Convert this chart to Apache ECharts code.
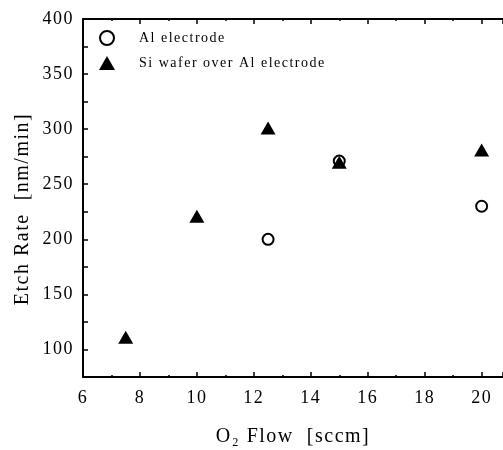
<!DOCTYPE html>
<html>
<head>
<meta charset="utf-8">
<script src="https://cdn.jsdelivr.net/npm/echarts@6/dist/echarts.min.js"></script>
<style>
  html, body { margin: 0; padding: 0; background: #fff; }
  #main { width: 503px; height: 450px; }
</style>
</head>
<body>
<div id="main"></div>
<script>
// O2 flow vs etch rate
const seriesNames = ['Al electrode', 'Si wafer over Al electrode'];
const alFlow = [12.5, 15, 20];
const alRate = [200, 271, 230];
const siFlow = [7.5, 10, 12.5, 15, 20];
const siRate = [111, 221, 301, 270, 281];

const font = 'Liberation Serif, Times New Roman, serif';

// the original typesetting is a little spread out
const fillText = CanvasRenderingContext2D.prototype.fillText;
CanvasRenderingContext2D.prototype.fillText = function (...args) {
    this.letterSpacing = '1.5px';
    return fillText.apply(this, args);
};

function pairs(xs, ys) {
    return xs.map((x, i) => [x, ys[i]]);
}

const chart = echarts.init(document.getElementById('main'), null, { renderer: 'canvas' });

const option = {
    animation: false,
    backgroundColor: '#fff',
    grid: { left: 83, right: 0, top: 19, bottom: 73, outerBoundsMode: 'none', containLabel: false },
    legend: {
        orient: 'vertical',
        left: 94,
        top: 25,
        itemWidth: 16,
        itemHeight: 14,
        itemGap: 10,
        textStyle: { fontFamily: font, fontSize: 14, color: '#000', padding: [0, 0, 0, 19] },
        data: seriesNames
    },
    xAxis: [{
        type: 'value',
        min: 6,
        max: 20.75,
        interval: 2,
        position: 'bottom',
        name: 'O\u2082 Flow  [sccm]',
        nameLocation: 'middle',
        nameGap: 50,
        nameTextStyle: { fontFamily: font, fontSize: 20, color: '#000' },
        axisLine: { lineStyle: { color: '#000', width: 2 } },
        axisTick: { inside: true, length: 5, lineStyle: { color: '#000', width: 1.5 } },
        minorTick: { show: true, splitNumber: 2, length: 2, lineStyle: { color: '#000', width: 1.5 } },
        axisLabel: {
            margin: 12,
            fontFamily: font, fontSize: 18, color: '#000',
            showMaxLabel: false,
            formatter: v => (v % 2 === 0 ? String(v) : '')
        },
        splitLine: { show: false }
    }, {
        type: 'value',
        min: 6,
        max: 20.75,
        interval: 2,
        position: 'top',
        axisLine: { lineStyle: { color: '#000', width: 2 } },
        axisTick: { inside: true, length: 5, lineStyle: { color: '#000', width: 1.5 } },
        minorTick: { show: true, splitNumber: 2, length: 2, lineStyle: { color: '#000', width: 1.5 } },
        axisLabel: { show: false },
        splitLine: { show: false }
    }],
    yAxis: {
        type: 'value',
        min: 75,
        max: 400,
        interval: 25,
        name: 'Etch Rate  [nm/min]',
        nameLocation: 'middle',
        nameGap: 50,
        nameTextStyle: { fontFamily: font, fontSize: 20, color: '#000', padding: [0, 22, 0, 0] },
        axisLine: { lineStyle: { color: '#000', width: 2 } },
        axisTick: { inside: true, length: 5, lineStyle: { color: '#000', width: 1.5 } },
        axisLabel: {
            margin: 9,
            fontFamily: font, fontSize: 18, color: '#000',
            formatter: v => (v >= 100 && v % 50 === 0 ? String(v) : '')
        },
        splitLine: { show: false }
    },
    series: [{
        name: seriesNames[0],
        type: 'scatter',
        symbol: 'circle',
        symbolSize: 11,
        itemStyle: { color: '#fff', borderColor: '#000', borderWidth: 2, opacity: 1 },
        data: pairs(alFlow, alRate),
        z: 2
    }, {
        name: seriesNames[1],
        type: 'scatter',
        symbol: 'triangle',
        symbolSize: [15, 13],
        itemStyle: { color: '#000', opacity: 1 },
        data: pairs(siFlow, siRate),
        z: 3
    }]
};

chart.setOption(option);
</script>
</body>
</html>
